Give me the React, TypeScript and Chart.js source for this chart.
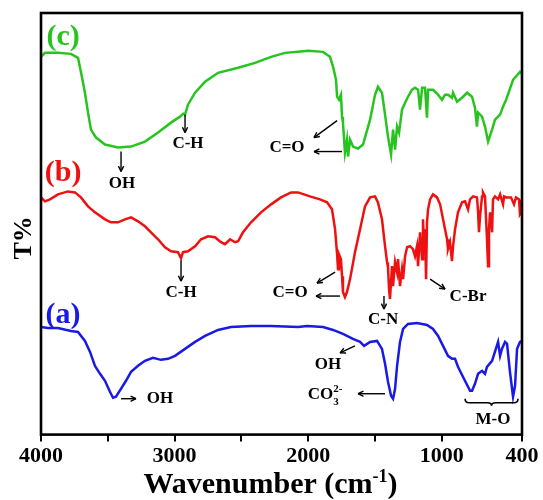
import React, { useEffect, useRef } from 'react';
import { Chart, registerables } from 'chart.js';
Chart.register(...registerables);

// ---- Spectrum (c): green ----
const wnC = [4000,3970,3873,3776,3723,3700,3671,3648,3626,3588,3521,3424,3326,3222,3124,3027,2960,2935,2922,2900,2847,2772,2675,2525,2398,2278,2174,2076,2000,1889,1837,1814,1792,1784,1770,1755,1747,1740,1725,1710,1702,1687,1665,1627,1590,1537,1500,1478,1448,1425,1403,1380,1365,1350,1335,1320,1298,1275,1253,1223,1201,1178,1163,1148,1126,1111,1103,1066,1028,999,976,954,924,916,886,849,811,774,752,737,729,699,677,654,624,602,564,542,519,467,415,400];
const tC = [379,383,383,382,378,363,343,323,306,298,291,288,289,294,303,313,319,322,321,331,343,354,363,368,373,379,383,384,385,384,379,369,356,339,336,341,319,313,283,296,279,296,289,287,291,316,341,349,343,321,299,281,306,286,309,303,326,333,339,346,348,346,326,348,348,318,346,346,341,336,341,341,338,343,334,338,343,339,328,309,323,319,309,294,306,316,321,329,336,356,364,362];

// ---- Spectrum (b): red ----
const wnB = [4000,3970,3933,3873,3798,3746,3701,3648,3596,3521,3476,3424,3371,3326,3274,3222,3177,3124,3072,3027,2975,2952,2937,2900,2847,2802,2750,2698,2653,2623,2585,2548,2525,2488,2428,2353,2278,2204,2129,2076,1987,1912,1859,1822,1799,1784,1777,1770,1755,1747,1740,1725,1710,1687,1650,1612,1575,1537,1500,1478,1448,1425,1410,1403,1395,1388,1373,1365,1350,1335,1328,1313,1298,1290,1275,1260,1238,1216,1201,1186,1178,1163,1148,1141,1133,1126,1118,1111,1103,1088,1066,1036,1013,991,961,954,939,924,916,901,879,849,826,804,789,766,737,729,722,714,699,692,677,662,654,647,639,624,617,602,579,564,542,534,519,482,460,445,422,415,400];
const tB = [238,234,236,241,244,243,238,229,223,216,213,213,216,218,214,209,203,196,188,184,183,177,183,184,189,196,199,198,193,191,196,193,194,203,213,223,231,238,243,243,239,236,233,226,206,181,166,181,176,159,143,138,143,156,183,206,229,238,239,233,216,189,173,168,146,136,169,149,173,163,176,149,166,156,179,188,189,186,179,189,169,203,176,216,189,206,156,213,226,236,241,238,231,216,196,186,193,174,189,206,223,233,234,226,236,239,238,224,203,219,239,243,239,196,169,206,223,203,236,239,236,241,231,239,238,238,231,238,236,221,224];

// ---- Spectrum (a): blue ----
const wnA = [4000,3948,3873,3776,3723,3671,3633,3596,3558,3521,3484,3461,3439,3401,3364,3326,3274,3222,3162,3102,3049,2997,2922,2847,2772,2675,2578,2428,2278,2076,2009,1889,1814,1740,1665,1612,1582,1537,1485,1448,1425,1403,1380,1365,1350,1335,1313,1290,1253,1186,1111,1066,1028,991,954,924,901,879,842,804,789,774,752,729,699,677,662,624,579,564,550,527,512,490,467,452,437,415,400];
const tA = [108,107,107,104,103,94,83,69,61,54,43,37,38,46,54,63,69,74,77,75,76,79,86,93,99,105,108,109,109,108,109,108,105,101,96,93,89,93,94,86,71,53,39,36,46,69,93,106,111,112,110,106,99,89,79,76,76,68,58,48,44,44,51,61,64,61,68,74,93,79,86,93,91,63,38,49,86,93,94];

// ---- Axis ticks ----
const xTickValues = [4000, 3500, 3000, 2500, 2000, 1500, 1000, 400];
const xTickLabels = ['4000', '', '3000', '', '2000', '', '1000', '400'];

// ---- Annotations (data coordinates: wavenumber, T) ----
const seriesTags = [
  { text: '(c)', wn: 3835, t: 399, color: '#27c41f' },
  { text: '(b)', wn: 3835, t: 262, color: '#ee1111' },
  { text: '(a)', wn: 3835, t: 120, color: '#1a1ae6' },
];
const bandLabels = [
  { text: 'OH', wn: 3394, t: 252 },
  { text: 'C-H', wn: 2900, t: 292 },
  { text: 'C=O', wn: 2159, t: 288 },
  { text: 'C-H', wn: 2952, t: 142 },
  { text: 'C=O', wn: 2136, t: 142 },
  { text: 'C-N', wn: 1440, t: 115 },
  { text: 'C-Br', wn: 804, t: 138 },
  { text: 'OH', wn: 3109, t: 36 },
  { text: 'OH', wn: 1852, t: 70 },
  { text: 'M-O', wn: 617, t: 15 },
];
const co3Label = { wn: 1874, t: 40 };
const arrows = [
  { wn1: 3401, t1: 284, wn2: 3401, t2: 264 },
  { wn1: 2922, t1: 321, wn2: 2922, t2: 303 },
  { wn1: 1784, t1: 315, wn2: 1957, t2: 298 },
  { wn1: 1747, t1: 284, wn2: 1957, t2: 284 },
  { wn1: 2952, t1: 175, wn2: 2952, t2: 154 },
  { wn1: 1799, t1: 163, wn2: 1934, t2: 152 },
  { wn1: 1762, t1: 139, wn2: 1942, t2: 139 },
  { wn1: 1433, t1: 139, wn2: 1433, t2: 126 },
  { wn1: 1088, t1: 156, wn2: 976, t2: 146 },
  { wn1: 3401, t1: 36, wn2: 3289, t2: 36 },
  { wn1: 1650, t1: 89, wn2: 1762, t2: 82 },
  { wn1: 1425, t1: 41, wn2: 1627, t2: 41 },
];
const moBracket = { wnStart: 826, wnEnd: 430, tTop: 36, tMid: 32, tTip: 29 };

const SERIF = "'Liberation Serif', 'Times New Roman', serif";

function toPts(xs: number[], ys: number[]) {
  const n = Math.min(xs.length, ys.length);
  const out: { x: number; y: number }[] = [];
  for (let i = 0; i < n; i++) out.push({ x: xs[i], y: ys[i] });
  return out;
}

function drawArrow(ctx: CanvasRenderingContext2D, x1: number, y1: number, x2: number, y2: number) {
  const ang = Math.atan2(y2 - y1, x2 - x1);
  const h = 6;
  ctx.beginPath();
  ctx.moveTo(x1, y1);
  ctx.lineTo(x2, y2);
  ctx.stroke();
  ctx.beginPath();
  ctx.moveTo(x2, y2);
  ctx.lineTo(x2 - h * Math.cos(ang - 0.45), y2 - h * Math.sin(ang - 0.45));
  ctx.moveTo(x2, y2);
  ctx.lineTo(x2 - h * Math.cos(ang + 0.45), y2 - h * Math.sin(ang + 0.45));
  ctx.stroke();
}

const overlayPlugin = {
  id: 'ftirOverlay',
  afterDatasetsDraw(chart: any) {
    const { ctx, chartArea, scales } = chart;
    const xs = scales.x;
    const ys = scales.y;
    const px = (wn: number) => xs.getPixelForValue(wn);
    const py = (t: number) => ys.getPixelForValue(t);
    ctx.save();
    // frame
    ctx.strokeStyle = '#000';
    ctx.lineWidth = 2.6;
    ctx.strokeRect(chartArea.left, chartArea.top, chartArea.right - chartArea.left, chartArea.bottom - chartArea.top);

    // series tags
    ctx.textAlign = 'center';
    ctx.textBaseline = 'middle';
    ctx.font = `bold 30px ${SERIF}`;
    for (const s of seriesTags) {
      ctx.fillStyle = s.color;
      ctx.fillText(s.text, px(s.wn), py(s.t));
    }
    // band labels
    ctx.fillStyle = '#000';
    ctx.font = `bold 17px ${SERIF}`;
    for (const b of bandLabels) ctx.fillText(b.text, px(b.wn), py(b.t));

    // CO3 2-
    {
      const cx = px(co3Label.wn);
      const cy = py(co3Label.t);
      ctx.font = `bold 17px ${SERIF}`;
      const wMain = ctx.measureText('CO').width;
      ctx.font = `bold 11px ${SERIF}`;
      const wSub = ctx.measureText('3').width;
      const wSup = ctx.measureText('2-').width;
      const total = wMain + Math.max(wSub, wSup);
      const x0 = cx - total / 2;
      ctx.textAlign = 'left';
      ctx.font = `bold 17px ${SERIF}`;
      ctx.fillText('CO', x0, cy);
      ctx.font = `bold 11px ${SERIF}`;
      ctx.fillText('3', x0 + wMain, cy + 7);
      ctx.fillText('2-', x0 + wMain, cy - 6);
    }

    // arrows
    ctx.strokeStyle = '#000';
    ctx.lineWidth = 1.4;
    for (const a of arrows) drawArrow(ctx, px(a.wn1), py(a.t1), px(a.wn2), py(a.t2));

    // M-O brace
    {
      const x1 = px(moBracket.wnStart);
      const x2 = px(moBracket.wnEnd);
      const yt = py(moBracket.tTop);
      const ym = py(moBracket.tMid);
      const yb = py(moBracket.tTip);
      const xc = (x1 + x2) / 2;
      ctx.lineWidth = 1.6;
      ctx.beginPath();
      ctx.moveTo(x1, yt);
      ctx.quadraticCurveTo(x1, ym, x1 + 4, ym);
      ctx.lineTo(xc - 4, ym);
      ctx.quadraticCurveTo(xc, ym, xc, yb);
      ctx.quadraticCurveTo(xc, ym, xc + 4, ym);
      ctx.lineTo(x2 - 4, ym);
      ctx.quadraticCurveTo(x2, ym, x2, yt);
      ctx.stroke();
    }

    // y-axis title "T%"
    ctx.save();
    ctx.translate(chartArea.left - 17, (chartArea.top + chartArea.bottom) / 2 + 14);
    ctx.rotate(-Math.PI / 2);
    ctx.textAlign = 'center';
    ctx.textBaseline = 'middle';
    ctx.font = `bold 26px ${SERIF}`;
    ctx.fillStyle = '#000';
    ctx.fillText('T%', 0, 0);
    ctx.restore();

    // x-axis title with superscript
    {
      const main = 'Wavenumber (cm';
      const sup = '-1';
      const close = ')';
      ctx.font = `bold 30px ${SERIF}`;
      const w1 = ctx.measureText(main).width;
      const w3 = ctx.measureText(close).width;
      ctx.font = `bold 18px ${SERIF}`;
      const w2 = ctx.measureText(sup).width;
      const total = w1 + w2 + w3;
      const cx = (chartArea.left + chartArea.right) / 2 - 11;
      const base = chart.height - 7;
      let x = cx - total / 2;
      ctx.textAlign = 'left';
      ctx.textBaseline = 'alphabetic';
      ctx.fillStyle = '#000';
      ctx.font = `bold 30px ${SERIF}`;
      ctx.fillText(main, x, base);
      x += w1;
      ctx.font = `bold 18px ${SERIF}`;
      ctx.fillText(sup, x, base - 11);
      x += w2;
      ctx.font = `bold 30px ${SERIF}`;
      ctx.fillText(close, x, base);
    }
    ctx.restore();
  },
};

export default function App() {
  const ref = useRef<HTMLCanvasElement | null>(null);
  useEffect(() => {
    if (!ref.current) return;
    const chart = new Chart(ref.current, {
      type: 'line',
      data: {
        datasets: [
          { label: '(c)', data: toPts(wnC, tC), borderColor: '#27c41f', borderWidth: 2.5, pointRadius: 0, tension: 0, fill: false },
          { label: '(b)', data: toPts(wnB, tB), borderColor: '#ee1111', borderWidth: 2.5, pointRadius: 0, tension: 0, fill: false },
          { label: '(a)', data: toPts(wnA, tA), borderColor: '#1a1ae6', borderWidth: 2.5, pointRadius: 0, tension: 0, fill: false },
        ],
      },
      options: {
        responsive: false,
        animation: false,
        events: [],
        layout: { padding: { left: 41, right: 21, top: 13, bottom: 28 } },
        plugins: { legend: { display: false }, tooltip: { enabled: false }, title: { display: false } },
        scales: {
          x: {
            type: 'linear',
            reverse: true,
            min: 400,
            max: 4000,
            afterBuildTicks: (scale: any) => {
              scale.ticks = xTickValues.map((v) => ({ value: v }));
            },
            ticks: {
              autoSkip: false,
              maxRotation: 0,
              padding: 2,
              color: '#000',
              font: { family: SERIF, weight: 'bold', size: 22 },
              callback: (v: any) => {
                const i = xTickValues.indexOf(Number(v));
                return i >= 0 ? xTickLabels[i] : '';
              },
            },
            grid: { drawOnChartArea: false, drawTicks: true, tickLength: 7, color: '#000', lineWidth: 2 },
            border: { display: false },
          },
          y: { display: false, min: 0, max: 423 },
        },
      },
      plugins: [overlayPlugin],
    } as any);
    return () => chart.destroy();
  }, []);
  return (
    <div style={{ position: 'fixed', left: 0, top: 0, width: 543, height: 500, background: '#fff' }}>
      <canvas ref={ref} width={543} height={500} style={{ width: 543, height: 500 }} />
    </div>
  );
}
